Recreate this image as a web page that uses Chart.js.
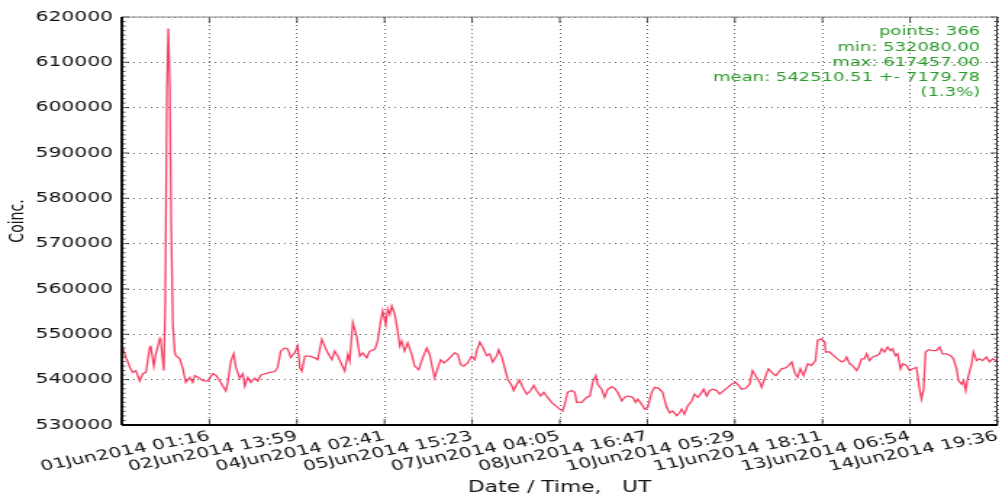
<!DOCTYPE html>
<html>
<head>
<meta charset="utf-8">
<script src="https://cdn.jsdelivr.net/npm/chart.js@4.4.1/dist/chart.umd.min.js"></script>
<style>
  html, body { margin: 0; padding: 0; background: #fff; overflow: hidden; }
  /* the original plot is stretched horizontally, so draw narrow and scale */
  #wrap { width: 689px; height: 497px; transform: scaleX(1.45); transform-origin: 0 0; }
</style>
</head>
<body>
<div id="wrap"><canvas id="coinc"></canvas></div>
<script>
// hours since start of the axis
const hours = [
  0.4, 1.7, 3.4, 4.6, 5.9, 7.5, 8.8, 10.1, 11.7, 12.1,
  13.4, 14.2, 15.9, 16.3, 17.6, 18.2, 18.9, 19.5, 20.1, 20.7,
  21.4, 22.2, 22.6, 24.3, 25.6, 26.8, 28.5, 29.7, 30.6, 32.7,
  33.9, 36.0, 38.1, 39.4, 41.1, 42.3, 43.6, 44.4, 45.7, 46.9,
  47.8, 49.4, 50.7, 51.5, 52.8, 54.0, 55.7, 57.0, 58.2, 59.9,
  62.0, 64.1, 65.3, 66.6, 68.3, 69.5, 70.8, 72.5, 73.7, 74.6,
  75.4, 76.7, 78.8, 80.8, 82.1, 83.8, 85.0, 86.3, 88.0, 89.2,
  90.5, 92.2, 93.4, 94.7, 95.5, 96.8, 97.6, 98.4, 99.7, 101.0,
  102.6, 103.9, 106.0, 107.2, 108.5, 109.3, 110.6, 111.4, 112.3, 113.1,
  114.4, 115.6, 116.5, 117.3, 118.5, 119.8, 121.5, 122.7, 124.4, 126.1,
  127.8, 129.0, 130.3, 131.1, 132.4, 133.6, 134.9, 136.6, 138.2, 139.5,
  140.8, 142.0, 143.3, 144.9, 146.6, 147.9, 148.7, 150.0, 151.2, 152.9,
  154.2, 155.4, 157.1, 157.9, 159.2, 160.4, 161.7, 163.4, 164.2, 165.5,
  166.7, 168.0, 169.7, 171.3, 172.6, 173.8, 175.5, 176.8, 178.0, 180.1,
  181.8, 183.5, 184.7, 185.6, 186.8, 188.5, 189.8, 190.6, 192.7, 194.8,
  196.1, 197.3, 198.6, 199.4, 201.1, 202.3, 203.6, 205.3, 206.5, 207.8,
  209.5, 210.7, 212.0, 214.1, 215.3, 216.2, 217.8, 219.1, 220.4, 222.0,
  223.3, 225.0, 226.6, 228.3, 229.6, 230.8, 232.5, 233.7, 234.6, 235.8,
  237.1, 238.8, 240.0, 241.3, 242.5, 243.8, 245.1, 246.3, 247.6, 249.3,
  250.5, 252.2, 253.9, 255.5, 257.2, 258.5, 259.7, 261.4, 263.1, 264.3,
  266.0, 267.3, 268.1, 269.8, 271.0, 272.3, 274.0, 275.2, 276.5, 278.1,
  279.4, 280.7, 281.9, 283.2, 284.4, 285.7, 287.4, 289.0, 290.7, 291.6,
  293.2, 294.5, 294.9, 296.6, 298.3, 299.9, 301.6, 302.9, 303.7, 305.0,
  306.2, 307.9, 308.7, 310.0, 311.2, 312.1, 313.3, 314.6, 316.3, 317.5,
  318.4, 319.6, 320.9, 322.1, 323.0, 324.2, 325.1, 326.3, 327.2, 328.9,
  330.1, 331.4, 333.0, 334.3, 335.1, 336.0, 336.8, 338.1, 339.7, 341.4,
  342.7, 343.9, 345.6, 347.3, 348.5, 349.8, 350.6, 351.9, 352.7, 353.6,
  354.4, 356.1, 356.9, 358.2, 359.4, 360.7, 362.3, 363.6, 364.9, 366.5
];

const coinc = [
  547000, 544900, 542700, 541600, 542000, 539700, 541300, 541600, 547100, 547500,
  543000, 545600, 549100, 548700, 542000, 556000, 604000, 617457, 605000, 574000,
  552000, 546000, 545300, 544600, 542400, 539400, 540500, 539400, 540900, 540300,
  539800, 539700, 541300, 541000, 539700, 538600, 537500, 539400, 544100, 545700,
  542700, 540300, 541300, 538600, 540500, 539400, 540300, 539700, 541000, 541300,
  541600, 541800, 542700, 546300, 547000, 546800, 544900, 546000, 547400, 542600,
  541900, 545200, 545200, 544800, 544400, 548900, 547400, 545900, 544400, 546300,
  545200, 543300, 541900, 545600, 544100, 552600, 551100, 549600, 545200, 545900,
  544800, 546300, 546700, 548500, 553000, 555200, 552200, 555600, 554400, 556300,
  554400, 550700, 547400, 548500, 546300, 548100, 545600, 543000, 542200, 544800,
  547000, 545600, 542200, 540400, 542600, 544400, 543700, 544400, 545200, 545900,
  545600, 543300, 543000, 543700, 545200, 544400, 546400, 548300, 547200, 545300,
  545700, 543900, 545300, 546600, 545000, 542700, 540100, 538700, 537600, 539000,
  539900, 538300, 536800, 537600, 538700, 537600, 536400, 537200, 536400, 535000,
  534200, 533500, 533100, 534600, 537200, 537600, 537200, 535000, 535000, 536100,
  536400, 539400, 540900, 539000, 537900, 536100, 537900, 538400, 538100, 537200,
  535300, 536100, 536400, 536100, 535000, 535700, 534600, 533500, 533900, 537200,
  538300, 538100, 537200, 533900, 532700, 533100, 532080, 532700, 533500, 532400,
  534200, 535300, 536800, 536100, 536800, 537900, 536400, 537600, 537900, 537600,
  536800, 537600, 538300, 539000, 539400, 538700, 537900, 538100, 539000, 542000,
  540500, 539400, 538300, 540900, 542400, 541600, 540900, 541600, 542400, 542600,
  543100, 543900, 541600, 540500, 542400, 540900, 543500, 543100, 544200, 548700,
  549000, 548300, 546100, 546100, 545300, 544600, 543900, 544200, 545000, 543500,
  543100, 542000, 542700, 544600, 544600, 545700, 544200, 545000, 545300, 545700,
  546800, 546100, 547200, 546400, 546800, 545300, 545700, 542400, 543500, 543100,
  542000, 542400, 542700, 537900, 535700, 537900, 546100, 546600, 546400, 546400,
  547200, 545700, 545700, 545300, 544600, 542400, 539800, 539000, 539800, 537600,
  540100, 543500, 546100, 544200, 544600, 544200, 545000, 543900, 544600, 544200
];

const tickHours = [0, 36.7, 73.4, 110.1, 146.8, 183.5, 220.2, 256.9, 293.6, 330.3, 367.0];
const tickLabels = ['', '01Jun2014 01:16', '02Jun2014 13:59', '04Jun2014 02:41', '05Jun2014 15:23',
  '07Jun2014 04:05', '08Jun2014 16:47', '10Jun2014 05:29', '11Jun2014 18:11',
  '13Jun2014 06:54', '14Jun2014 19:36'];
const yMin = 530000, yMax = 620000;
const statsLines = ['points: 366', 'min: 532080.00', 'max: 617457.00',
  'mean: 542510.51 +- 7179.78', '(1.3%)'];

const FONT = 'DejaVu Sans';

// matplotlib style frame: inward ticks, spines and the stats box
const frame = {
  id: 'frame',
  afterDatasetsDraw(chart) {
    const { ctx, chartArea: a, scales: { x, y } } = chart;
    ctx.save();
    ctx.strokeStyle = '#222';
    ctx.lineWidth = 0.8;
    ctx.beginPath();
    for (let v = yMin; v <= yMax; v += 1000) {
      const py = y.getPixelForValue(v);
      const len = v % 10000 === 0 ? 5 : 2.5;
      ctx.moveTo(a.left, py); ctx.lineTo(a.left + len, py);
      ctx.moveTo(a.right, py); ctx.lineTo(a.right - len, py);
    }
    tickHours.forEach(t => {
      const px = x.getPixelForValue(t);
      ctx.moveTo(px, a.bottom); ctx.lineTo(px, a.bottom - 6);
      ctx.moveTo(px, a.top); ctx.lineTo(px, a.top + 6);
    });
    ctx.stroke();

    ctx.strokeStyle = '#888';
    ctx.lineWidth = 1;
    ctx.beginPath();
    ctx.moveTo(a.left, a.top); ctx.lineTo(a.right, a.top);
    ctx.stroke();
    ctx.strokeStyle = '#333';
    ctx.beginPath();
    ctx.moveTo(a.right - 0.5, a.top); ctx.lineTo(a.right - 0.5, a.bottom);
    ctx.stroke();
    ctx.strokeStyle = '#000';
    ctx.lineWidth = 1.8;
    ctx.beginPath();
    ctx.moveTo(a.left, a.bottom); ctx.lineTo(a.right, a.bottom);
    ctx.moveTo(a.left, a.top); ctx.lineTo(a.left, a.bottom);
    ctx.stroke();

    ctx.fillStyle = '#2a9a2a';
    ctx.font = '12.4px "' + FONT + '"';
    ctx.textAlign = 'right';
    ctx.textBaseline = 'middle';
    statsLines.forEach((s, i) => ctx.fillText(s, 676, 32 + i * 15.3));
    ctx.restore();
  }
};

new Chart(document.getElementById('coinc'), {
  type: 'line',
  data: {
    datasets: [{
      data: hours.map((h, i) => ({ x: h, y: coinc[i] })),
      borderColor: 'rgba(245, 40, 80, 0.88)',
      borderWidth: 1.3,
      pointRadius: 0,
      tension: 0,
      fill: false
    }]
  },
  options: {
    responsive: true,
    maintainAspectRatio: false,
    animation: false,
    devicePixelRatio: 1,
    layout: { padding: { top: 17, right: 1, left: 0, bottom: 0 } },
    plugins: { legend: { display: false }, tooltip: { enabled: false } },
    scales: {
      x: {
        type: 'linear',
        min: 0,
        max: 367,
        afterBuildTicks: s => { s.ticks = tickHours.map(v => ({ value: v })); },
        afterFit: s => { s.height = 72; s.paddingLeft = 0; s.paddingRight = 0; },
        grid: { color: 'rgba(0,0,0,0.6)', lineWidth: 1, drawTicks: false },
        border: { display: false, dash: [1, 3] },
        ticks: {
          autoSkip: false,
          minRotation: 15,
          maxRotation: 15,
          padding: 3,
          color: '#111',
          font: { family: FONT, size: 14 },
          callback: (v, i) => tickLabels[i]
        },
        title: {
          display: true,
          text: 'Date / Time,   UT',
          color: '#111',
          font: { family: FONT, size: 15 },
          padding: { top: 0, bottom: 0 }
        }
      },
      y: {
        min: yMin,
        max: yMax,
        afterFit: s => { s.width = 84; },
        grid: { color: 'rgba(0,0,0,0.6)', lineWidth: 1, drawTicks: false },
        border: { display: false, dash: [1, 3] },
        ticks: {
          stepSize: 10000,
          autoSkip: false,
          padding: 6,
          color: '#111',
          font: { family: FONT, size: 14 },
          callback: v => String(v)
        },
        title: {
          display: true,
          text: 'Coinc.',
          color: '#111',
          font: { family: FONT, size: 14 },
          padding: { top: 4, bottom: 0 }
        }
      }
    }
  },
  plugins: [frame]
});
</script>
</body>
</html>
